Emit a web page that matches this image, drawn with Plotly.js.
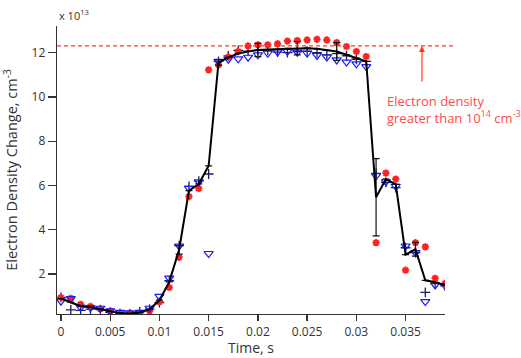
<!DOCTYPE html>
<html>
<head>
<meta charset="utf-8">
<script src="https://cdn.plot.ly/plotly-3.0.1.min.js"></script>
<style>
  html, body { margin: 0; padding: 0; background: #fff; }
  #chart { width: 521px; height: 358px; }
</style>
</head>
<body>
<div id="chart"></div>
<script>
// Time of each sample, s
const time = [0, 0.001, 0.002, 0.003, 0.004, 0.005, 0.006, 0.007, 0.008, 0.009,
  0.010, 0.011, 0.012, 0.013, 0.014, 0.015, 0.016, 0.017, 0.018, 0.019,
  0.020, 0.021, 0.022, 0.023, 0.024, 0.025, 0.026, 0.027, 0.028, 0.029,
  0.030, 0.031, 0.032, 0.033, 0.034, 0.035, 0.036, 0.037, 0.038, 0.039];

// Electron density change, units of 1e13 cm^-3
const runRed = [0.94, 0.91, 0.64, 0.54, 0.43, 0.33, 0.25, 0.24, 0.26, 0.34,
  0.75, 1.40, 2.76, 5.50, 5.87, 11.22, 11.45, 11.80, 12.05, 12.30,
  12.35, 12.35, 12.40, 12.52, 12.54, 12.57, 12.60, 12.57, 12.45, 12.27,
  12.05, 11.82, 3.42, 6.56, 6.29, 2.18, 3.42, 3.23, 1.81, 1.58];

const runBlue = [0.78, 0.89, 0.50, 0.49, 0.46, 0.34, 0.27, 0.25, 0.27, 0.46,
  1.00, 1.82, 3.27, 5.87, 6.17, 2.93, 11.60, 11.70, 11.72, 11.79,
  11.90, 11.97, 12.03, 12.06, 12.02, 11.97, 11.87, 11.80, 11.67, 11.57,
  11.49, 11.37, 6.44, 6.17, 5.96, 3.27, 2.97, 0.76, 1.51, 1.48];

const runNavy = [0.95, 0.39, 0.36, 0.42, 0.40, 0.28, 0.22, 0.20, 0.30, 0.42,
  0.72, 1.70, 3.29, 5.96, 6.20, 6.52, 11.60, 11.85, 12.10, 12.06,
  12.10, 12.10, 12.02, 12.00, 12.05, 12.06, 12.00, 11.90, 11.95, 11.85,
  11.70, 11.60, 6.55, 6.14, 5.90, 3.19, 2.97, 1.18, 1.57, 1.47];

const average = [0.90, 0.73, 0.55, 0.50, 0.42, 0.31, 0.24, 0.22, 0.27, 0.41,
  0.82, 1.65, 3.10, 5.77, 6.07, 6.89, 11.55, 11.78, 11.96, 12.05,
  12.12, 12.14, 12.15, 12.19, 12.20, 12.20, 12.17, 12.10, 12.05, 11.90,
  11.75, 11.60, 5.47, 6.29, 6.05, 2.88, 3.12, 1.72, 1.63, 1.51];

const averageErr = [null, null, null, null, null, null, null, null, null, null,
  null, null, 0.20, null, null, null, 0.12, null, null, null,
  0.30, null, null, null, 0.30, null, null, null, 0.40, null,
  null, null, 1.74, null, null, null, 0.31, null, null, null];

// Threshold for an electron density above 1e14 cm^-3 (same units)
const threshold = 12.3;

const xRange = [-0.0004, 0.039];
const yRange = [0.2, 13.2];
const yPaper = v => (v - yRange[0]) / (yRange[1] - yRange[0]);

const FONT = 'Open Sans, Lato, sans-serif';
const INK = '#333333';
const RED = '#ff2020';
const BLUE = '#1a1aff';
const NAVY = '#1c1c5c';

const traces = [
  {
    x: time, y: runNavy, type: 'scatter', mode: 'markers', name: 'run 3',
    marker: { symbol: 'cross-thin-open', size: 7, color: NAVY, line: { color: NAVY, width: 1.3 } }
  },
  {
    x: time, y: runRed, type: 'scatter', mode: 'markers', name: 'run 1',
    marker: { symbol: 'asterisk-open', size: 6, color: RED, line: { color: RED, width: 2 } }
  },
  {
    x: time, y: runBlue, type: 'scatter', mode: 'markers', name: 'run 2',
    marker: { symbol: 'triangle-down-open', size: 8, color: BLUE, line: { color: BLUE, width: 1.2 } }
  },
  {
    x: time, y: average, type: 'scatter', mode: 'lines', name: 'average',
    line: { color: '#000000', width: 2 },
    error_y: { type: 'data', array: averageErr, color: '#111111', thickness: 1.2, width: 3.5, visible: true }
  }
];

const layout = {
  width: 521, height: 358,
  margin: { l: 57, r: 76, t: 26, b: 44, pad: 0 },
  paper_bgcolor: '#ffffff', plot_bgcolor: '#ffffff',
  showlegend: false,
  font: { family: FONT, size: 12, color: INK },
  xaxis: {
    range: xRange, showgrid: false, zeroline: false,
    showline: true, linecolor: INK, linewidth: 1.3,
    ticks: 'outside', ticklen: 6, tickwidth: 1.3, tickcolor: INK,
    tickvals: [0, 0.005, 0.01, 0.015, 0.02, 0.025, 0.03, 0.035],
    ticktext: ['0', '0.005', '0.01', '0.015', '0.02', '0.025', '0.03', '0.035'],
    tickfont: { family: FONT, size: 12, color: INK }
  },
  yaxis: {
    range: yRange, showgrid: false, zeroline: false,
    showline: true, linecolor: INK, linewidth: 1.3,
    ticks: 'outside', ticklen: 8, tickwidth: 1.3, tickcolor: INK,
    tickvals: [2, 4, 6, 8, 10, 12],
    tickfont: { family: FONT, size: 12, color: INK },
    title: { text: 'Electron Density Change, cm<sup>-3</sup>', font: { family: FONT, size: 14.5, color: INK }, standoff: 10 }
  },
  shapes: [
    {
      type: 'line', xref: 'paper', yref: 'paper',
      x0: 0, x1: 1.025, y0: yPaper(threshold), y1: yPaper(threshold),
      line: { color: '#ff3a1a', width: 1.2, dash: '4px,3px' }
    }
  ],
  annotations: [
    {
      // x-axis title, placed just under the tick labels
      xref: 'paper', yref: 'paper', x: 0.5, y: 0, yshift: -44, xanchor: 'center', yanchor: 'bottom',
      text: 'Time, s', showarrow: false, borderpad: 0,
      font: { family: FONT, size: 14, color: INK }
    },
    {
      xref: 'paper', yref: 'paper', x: 0, y: 1.005, xanchor: 'left', yanchor: 'bottom',
      text: 'x 10<sup>13</sup>', showarrow: false,
      font: { family: FONT, size: 11, color: INK }
    },
    {
      xref: 'paper', yref: 'paper', x: 0.9407, y: yPaper(threshold),
      text: '', showarrow: true, arrowhead: 2, arrowsize: 1, arrowwidth: 1.2,
      arrowcolor: '#ff3a1a', axref: 'pixel', ayref: 'pixel', ax: 0, ay: 37
    },
    {
      xref: 'paper', yref: 'paper', x: 0.846, y: 0.71, xanchor: 'left', yanchor: 'middle',
      align: 'left', showarrow: false,
      text: 'Electron density<br>greater than 10<sup>14</sup> cm<sup>-3</sup>',
      font: { family: FONT, size: 13, color: '#ff4a4a' }
    }
  ]
};

Plotly.newPlot('chart', traces, layout, { staticPlot: true, displayModeBar: false });
</script>
</body>
</html>
